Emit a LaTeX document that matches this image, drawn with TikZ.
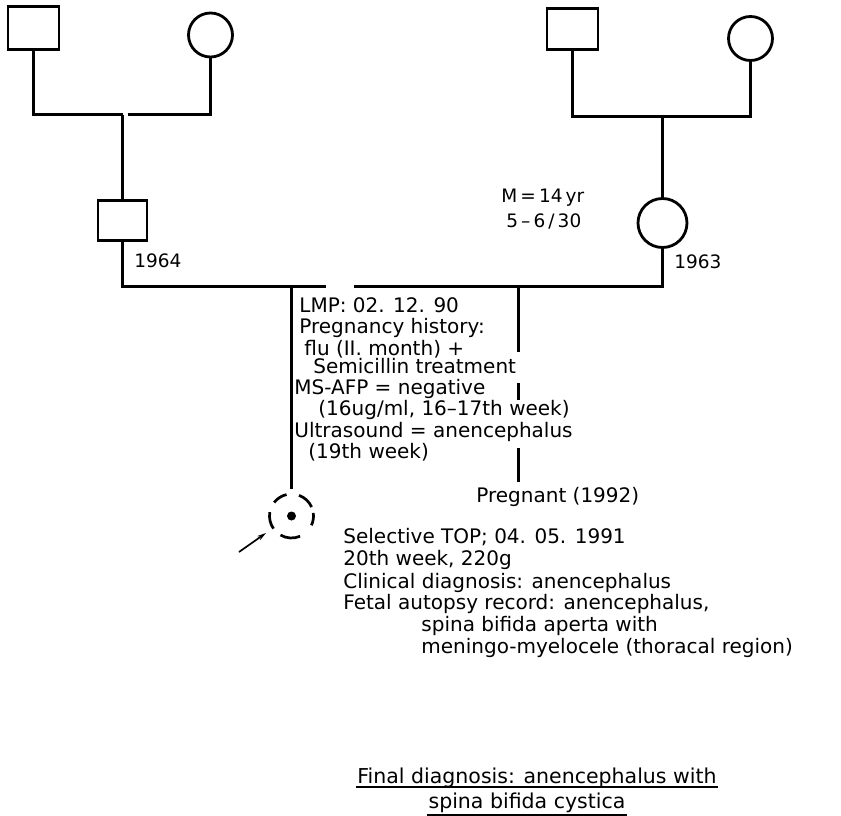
\documentclass[tikz,border=0pt]{standalone}
\usepackage{fontspec}
\setmainfont{DejaVu Sans}
\usetikzlibrary{arrows.meta}
\begin{document}
\begin{tikzpicture}[x=1pt,y=-1pt,
  line width=2.8pt,
  conn/.style={draw, line width=3pt},
  male/.style={draw, rectangle, inner sep=0pt, minimum width=#1},
  female/.style={draw, circle, inner sep=0pt, minimum size=#1},
  txt/.style={anchor=base west, inner sep=0pt, font=\fontsize{20}{22}\selectfont},
  yr/.style={anchor=base west, inner sep=0pt, font=\fontsize{18.5}{20}\selectfont},
  fin/.style={anchor=base, inner sep=0pt, font=\fontsize{20.5}{22}\selectfont}]
\useasboundingbox (0,0) rectangle (841,816);
% grandparents left
\node[male=51pt, minimum height=43pt] (gf1) at (33.5,28) {};
\node[female=44pt] (gm1) at (210.5,35) {};
% grandparents right
\node[male=51pt, minimum height=41pt] (gf2) at (572.5,29) {};
\node[female=44pt] (gm2) at (750.5,38.5) {};
% parents
\node[male=49pt, minimum height=40pt] (f) at (122.5,220.5) {};
\node[female=49pt] (m) at (662.5,223) {};
% junctions
\coordinate (j1a) at (122.5,114.5);
\coordinate (j1b) at (127.5,114.5);
\coordinate (j2) at (662.5,116.5);
\coordinate (mg1) at (326,286.5);
\coordinate (mg2) at (354,286.5);
\coordinate (c1) at (291.5,286.5);
\coordinate (c2) at (518.5,286.5);
\coordinate (c2a) at (518.5,352);
\coordinate (c2b) at (518.5,383);
\coordinate (c2c) at (518.5,400);
\coordinate (c2d) at (518.5,448);
\coordinate (c2e) at (518.5,482);
% connectors
\path[conn] (gf1.south) |- (j1a);
\path[conn] (j1b) -| (gm1.south);
\path[conn] (j1a) -- (f.north);
\path[conn] (gf2.south) |- (j2) -| (gm2.south);
\path[conn] (j2) -- (m.north);
\path[conn] (f.south) |- (mg1);
\path[conn] (mg2) -| (m.south);
% fetus
\node[circle, inner sep=0pt, minimum size=44pt] (fetus) at (291.5,516) {};
\path[conn] (c1) -- ([yshift=4pt]fetus.north);
\foreach \a/\b in {24/70, 103/142, 170/215, 240/293, -25/8}{
  \draw[line width=2.7pt] ([shift={(\a:22pt)}]fetus.center) arc[start angle=\a, end angle=\b, radius=22pt];
}
\fill (fetus.center) circle[radius=4.5pt];
\coordinate (arrt) at (239,552);
\coordinate (arrh) at (266,533);
\draw[line width=1.7pt, -{Stealth[length=9pt,width=5pt]}] (arrt) -- (arrh);
% second pregnancy
\path[conn] (c2) -- (c2a);
\path[conn] (c2b) -- (c2c);
\path[conn] (c2d) -- (c2e);
\node[txt] (preg) at (475,502) {Pregnant (1992)};
% years and marriage info
\node[yr] (y1) at (133,267) {1964};
\node[yr] (y2) at (673,268) {1963};
\node[yr] (mi1) at (500,202) {M\,=\,14\,yr};
\node[yr] (mi2) at (505,227) {5\,–\,6\,/\,30};
% upper text block
\node[txt] (u1) at (298,312) {LMP: 02. 12. 90};
\node[txt] (u2) at (298,333) {Pregnancy history:};
\node[txt] (u3) at (303,355) {flu (II. month) +};
\node[txt] (u4) at (312,373) {Semicillin treatment};
\node[txt] (u5) at (293,394) {MS-AFP = negative};
\node[txt] (u6) at (317,415) {(16ug/ml, 16–17th week)};
\node[txt] (u7) at (293,437) {Ultrasound = anencephalus};
\node[txt] (u8) at (307,458) {(19th week)};
% lower text block
\node[txt] (l1) at (342,543) {Selective TOP; 04. 05. 1991};
\node[txt] (l2) at (342,565) {20th week, 220g};
\node[txt] (l3) at (342,588) {Clinical diagnosis: anencephalus};
\node[txt] (l4) at (342,609) {Fetal autopsy record: anencephalus,};
\node[txt] (l5) at (420,631) {spina bifida aperta with};
\node[txt] (l6) at (420,653) {meningo-myelocele (thoracal region)};
% final diagnosis
\node[fin] (f1) at (537,783) {Final diagnosis: anencephalus with};
\node[fin] (f2) at (527,808) {spina bifida cystica};
\draw[line width=1.6pt] ([yshift=-4pt]f1.base west) -- ([yshift=-4pt]f1.base east);
\draw[line width=1.6pt] ([yshift=-7pt]f2.base west) -- ([yshift=-7pt]f2.base east);
\end{tikzpicture}
\end{document}
